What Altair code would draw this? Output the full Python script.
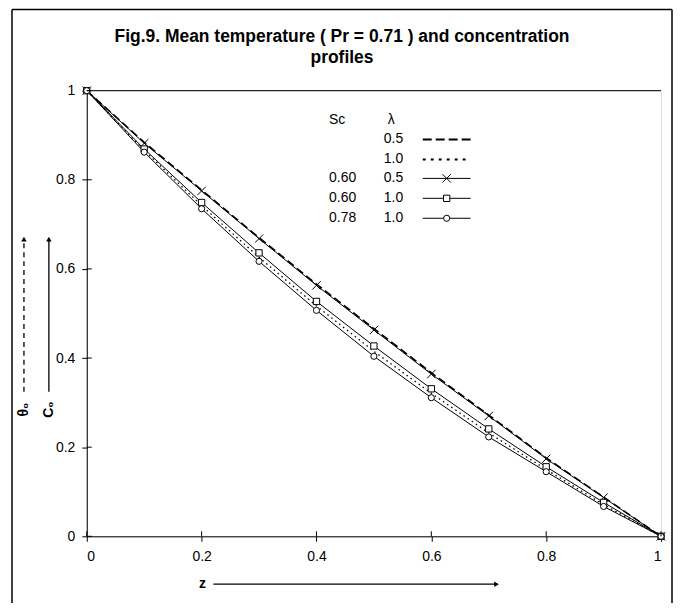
import altair as alt
import pandas as pd

# ---------------- data ----------------
z = [0.0, 0.1, 0.2, 0.3, 0.4, 0.5, 0.6, 0.7, 0.8, 0.9, 1.0]
theta_lam05 = [1.0, 0.884, 0.777, 0.670, 0.566, 0.466, 0.367, 0.272, 0.176, 0.088, 0.0]
theta_lam10 = [1.0, 0.866, 0.742, 0.626, 0.517, 0.415, 0.321, 0.232, 0.150, 0.071, 0.0]
c_sc060_lam05 = [1.0, 0.882, 0.775, 0.668, 0.563, 0.463, 0.364, 0.270, 0.174, 0.087, 0.0]
c_sc060_lam10 = [1.0, 0.869, 0.749, 0.636, 0.527, 0.427, 0.331, 0.241, 0.156, 0.076, 0.0]
c_sc078_lam10 = [1.0, 0.862, 0.735, 0.617, 0.507, 0.404, 0.311, 0.223, 0.145, 0.067, 0.0]

series_names = ["t05", "t10", "c060_05", "c060_10", "c078_10"]
legend_sc = ["", "", "0.60", "0.60", "0.78"]
legend_lam = ["0.5", "1.0", "0.5", "1.0", "1.0"]
tick_values = [0, 0.2, 0.4, 0.6, 0.8, 1.0]

title_lines = ["Fig.9. Mean temperature ( Pr = 0.71 ) and concentration", "profiles"]

# ---------------- layout ----------------
W, H = 576, 447
FONT = "Arial, Liberation Sans, sans-serif"
FS = 14
XMARK = "M-1,-1L1,1M-1,1L1,-1"

rows = []
for name, vals in zip(series_names, [theta_lam05, theta_lam10, c_sc060_lam05, c_sc060_lam10, c_sc078_lam10]):
    for zz, v in zip(z, vals):
        rows.append({"z": zz, "v": v, "s": name})
df = pd.DataFrame(rows)

xs = alt.Scale(domain=[0, 1], nice=False, zero=False)
ys = alt.Scale(domain=[0, 1], nice=False, zero=False)

axis_common = dict(
    values=tick_values, format="~g", grid=False, domainColor="black", domainWidth=1,
    tickColor="black", tickSize=5, tickWidth=1, labelFont=FONT, labelFontSize=FS,
    labelColor="black", title=None,
)
X = alt.X("z:Q", scale=xs, axis=alt.Axis(labelPadding=8, **axis_common))
Y = alt.Y("v:Q", scale=ys, axis=alt.Axis(labelPadding=7, **axis_common))

base = alt.Chart(df)

def line(name, **kw):
    return base.transform_filter(alt.datum.s == name).mark_line(color="black", **kw).encode(x=X, y=Y, order="z:Q")

def pts(name, shape, size, fill):
    return base.transform_filter(alt.datum.s == name).mark_point(
        shape=shape, size=size, stroke="black", strokeWidth=1, fill=fill, filled=fill != "none", opacity=1
    ).encode(x=X, y=Y)

layers = [
    line("t05", strokeWidth=1.6, strokeDash=[8, 4]),
    line("t10", strokeWidth=1.3, strokeDash=[1.5, 3.5]),
    line("c060_05", strokeWidth=1),
    line("c060_10", strokeWidth=1),
    line("c078_10", strokeWidth=1),
    pts("c060_05", XMARK, 70, "none"),
    pts("c060_10", "square", 40, "white"),
    pts("c078_10", "circle", 38, "white"),
]

one = pd.DataFrame({"a": [0]})
ann = alt.Chart(one)
ticks_df = pd.DataFrame({"t": tick_values})

# crossing ticks (inner half)
layers.append(alt.Chart(ticks_df).mark_rule(color="black", strokeWidth=1).encode(
    y=alt.Y("t:Q", scale=ys), x=alt.value(0), x2=alt.value(5)))
layers.append(alt.Chart(ticks_df).mark_rule(color="black", strokeWidth=1).encode(
    x=alt.X("t:Q", scale=xs), y=alt.value(H), y2=alt.value(H - 5)))
# top line at y = 1
layers.append(ann.mark_rule(color="black", strokeWidth=1).encode(
    x=alt.value(0), x2=alt.value(W), y=alt.value(0)))

# figure border (left, top, right)
BL, BR, BT, BB = -75, 587, -81.5, 520
layers.append(ann.mark_rule(color="black", strokeWidth=1.5).encode(x=alt.value(BL), y=alt.value(BT), y2=alt.value(BB)))
layers.append(ann.mark_rule(color="black", strokeWidth=1.5).encode(x=alt.value(BR), y=alt.value(BT), y2=alt.value(BB)))
layers.append(ann.mark_rule(color="black", strokeWidth=1.5).encode(x=alt.value(BL), x2=alt.value(BR), y=alt.value(BT)))

# title
for i, t in enumerate(title_lines):
    layers.append(ann.mark_text(font=FONT, fontSize=17.5, fontWeight="bold", color="black",
                                align="center", baseline="middle").encode(
        x=alt.value(256), y=alt.value(-54 + 21 * i), text=alt.value(t)))

# y axis title with arrows
layers.append(ann.mark_text(font=FONT, fontSize=14, fontWeight="bold", angle=270, color="black",
                            align="center", baseline="middle").encode(
    x=alt.value(-63), y=alt.value(320), text=alt.value("θ₀")))
layers.append(ann.mark_text(font=FONT, fontSize=14, fontWeight="bold", angle=270, color="black",
                            align="center", baseline="middle").encode(
    x=alt.value(-38), y=alt.value(320), text=alt.value("C₀")))
layers.append(ann.mark_rule(color="black", strokeWidth=1.3, strokeDash=[5, 4]).encode(
    x=alt.value(-63), y=alt.value(302), y2=alt.value(150)))
layers.append(ann.mark_rule(color="black", strokeWidth=1.3).encode(
    x=alt.value(-38), y=alt.value(302), y2=alt.value(150)))
for xx in (-63, -38):
    layers.append(ann.mark_point(shape="triangle-up", size=30, filled=True, color="black", opacity=1).encode(
        x=alt.value(xx), y=alt.value(149)))

# x axis title with arrow
layers.append(ann.mark_text(font=FONT, fontSize=14, fontWeight="bold", color="black",
                            align="center", baseline="middle").encode(
    x=alt.value(116), y=alt.value(495), text=alt.value("z")))
layers.append(ann.mark_rule(color="black", strokeWidth=1.3).encode(
    x=alt.value(127), x2=alt.value(410), y=alt.value(495)))
layers.append(ann.mark_point(shape="triangle-right", size=30, filled=True, color="black", opacity=1).encode(
    x=alt.value(411), y=alt.value(495)))

# legend
LX_SC, LX_LAM, LX0, LX1 = 243, 298, 337, 385
layers.append(ann.mark_text(font=FONT, fontSize=FS, color="black", align="left", baseline="middle").encode(
    x=alt.value(LX_SC), y=alt.value(29), text=alt.value("Sc")))
layers.append(ann.mark_text(font=FONT, fontSize=FS, color="black", align="left", baseline="middle").encode(
    x=alt.value(LX_LAM + 4), y=alt.value(29), text=alt.value("λ")))
row_y = [49, 69, 88, 108, 128]
styles = [
    dict(strokeWidth=2, strokeDash=[9, 4]),
    dict(strokeWidth=2, strokeDash=[3, 5]),
    dict(strokeWidth=1),
    dict(strokeWidth=1),
    dict(strokeWidth=1),
]
markers = [None, None, (XMARK, 70, "none"), ("square", 40, "white"), ("circle", 38, "white")]
for sc, lam, ry, st, mk in zip(legend_sc, legend_lam, row_y, styles, markers):
    if sc:
        layers.append(ann.mark_text(font=FONT, fontSize=FS, color="black", align="left", baseline="middle").encode(
            x=alt.value(LX_SC), y=alt.value(ry), text=alt.value(sc)))
    layers.append(ann.mark_text(font=FONT, fontSize=FS, color="black", align="left", baseline="middle").encode(
        x=alt.value(LX_LAM), y=alt.value(ry), text=alt.value(lam)))
    layers.append(ann.mark_rule(color="black", **st).encode(
        x=alt.value(LX0), x2=alt.value(LX1), y=alt.value(ry)))
    if mk:
        layers.append(ann.mark_point(shape=mk[0], size=mk[1], stroke="black", strokeWidth=1,
                                     fill=mk[2], filled=mk[2] != "none", opacity=1).encode(
            x=alt.value((LX0 + LX1) / 2), y=alt.value(ry)))

chart = alt.layer(*layers).properties(
    width=W, height=H,
    padding={"left": 79, "top": 82, "right": 12, "bottom": 66},
    autosize=alt.AutoSizeParams(type="none"),
).configure_view(stroke=None).configure(background="white")

chart.save("out.html", embed_options={"renderer": "svg", "actions": False})
